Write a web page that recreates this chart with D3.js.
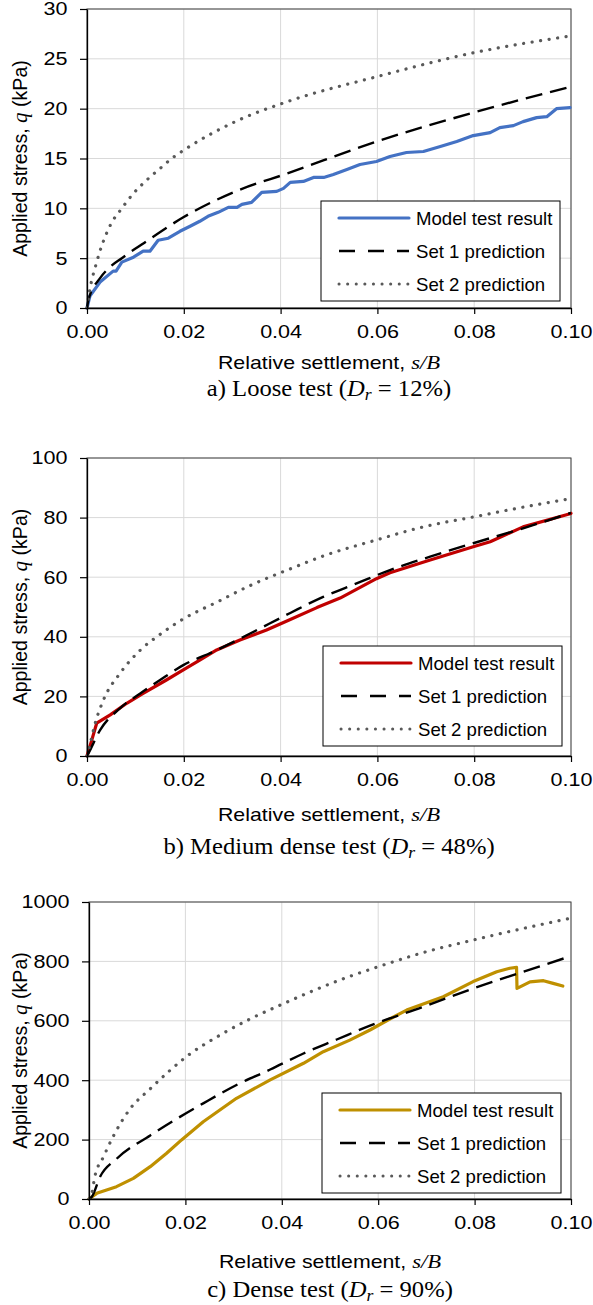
<!DOCTYPE html>
<html>
<head>
<meta charset="utf-8">
<script src="https://cdn.jsdelivr.net/npm/d3@7"></script>
<style>
  body { margin: 0; background: #fff; }
  text { fill: #000; }
</style>
</head>
<body>
<script>
// ---- data ----
const settleTicks = [0, 0.02, 0.04, 0.06, 0.08, 0.10];
const looseTicks = [0, 5, 10, 15, 20, 25, 30];
const mediumTicks = [0, 20, 40, 60, 80, 100];
const denseTicks = [0, 200, 400, 600, 800, 1000];
const legendNames = ["Model test result", "Set 1 prediction", "Set 2 prediction"];

// a) loose test, [s/B, q kPa]
const looseModel = [[0,0],[0.0006,1.2],[0.0027,2.6],[0.0054,3.7],[0.006,3.7],[0.0072,4.6],[0.0096,5.1],
  [0.0116,5.7],[0.013,5.7],[0.0147,6.8],[0.0168,7.0],[0.0192,7.7],[0.0213,8.2],[0.0233,8.7],[0.025,9.2],
  [0.0271,9.6],[0.0292,10.1],[0.031,10.1],[0.032,10.4],[0.034,10.6],[0.0361,11.6],[0.0392,11.7],[0.0406,12.0],
  [0.042,12.6],[0.0447,12.7],[0.0468,13.1],[0.0489,13.1],[0.0509,13.4],[0.0537,13.9],[0.0564,14.4],[0.0598,14.7],
  [0.0626,15.2],[0.066,15.6],[0.0695,15.7],[0.073,16.2],[0.0764,16.7],[0.0798,17.3],[0.0833,17.6],[0.0853,18.1],
  [0.0881,18.3],[0.0901,18.7],[0.0929,19.1],[0.095,19.2],[0.097,20.0],[0.0998,20.1]];
const looseSet1 = [[0,0],[0.0003,0.8],[0.0027,3.0],[0.0045,4.0],[0.0072,5.0],[0.0123,6.7],[0.0199,9.1],
  [0.0302,11.6],[0.042,13.6],[0.0598,16.7],[0.0798,19.6],[0.1,22.2]];
const looseSet2 = [[0,0],[0.0005,1.6],[0.002,4.6],[0.0047,8.2],[0.0072,10.0],[0.0096,11.5],[0.0116,12.5],
  [0.0151,14.0],[0.0175,15.0],[0.0202,15.9],[0.0302,18.6],[0.042,20.8],[0.0598,23.2],[0.0798,25.6],[0.1,27.3]];

// b) medium dense test
const mediumModel = [[0,0],[0.001,5.4],[0.002,11.0],[0.0048,13.8],[0.0082,17.7],[0.0116,21.0],[0.0164,25.5],
  [0.0199,28.9],[0.0233,32.2],[0.0268,35.6],[0.0316,38.9],[0.0371,42.3],[0.042,45.8],[0.0475,49.8],[0.0523,53.0],
  [0.0598,59.5],[0.0626,61.5],[0.0709,65.8],[0.0798,70.2],[0.0833,71.9],[0.0901,76.9],[0.1,81.4]];
const mediumSet1 = [[0,0],[0.0003,0.9],[0.0027,8.7],[0.0068,16.0],[0.011,21.0],[0.0151,25.5],[0.0199,30.5],
  [0.0261,35.0],[0.0337,41.1],[0.042,48.0],[0.0488,53.4],[0.0557,57.9],[0.0626,62.4],[0.0709,66.9],
  [0.0798,71.4],[0.0901,76.4],[0.1,81.6]];
const mediumSet2 = [[0,0],[0.0005,3.1],[0.0017,11.0],[0.0034,18.8],[0.0068,27.7],[0.011,35.5],[0.0151,40.8],
  [0.0199,46.0],[0.0268,51.6],[0.0337,57.2],[0.042,62.8],[0.0488,67.1],[0.0598,72.5],[0.0695,76.9],
  [0.0798,80.2],[0.0901,83.5],[0.1,86.4]];

// c) dense test
const denseModel = [[0,0],[0.0016,19],[0.0057,41.5],[0.0092,69.6],[0.0127,108.8],[0.0161,153.9],[0.0192,199],
  [0.0237,260],[0.0306,339],[0.0376,401],[0.0445,457],[0.0486,496],[0.0541,535],[0.0583,569],[0.0624,606],
  [0.0659,636],[0.0735,681],[0.0797,732],[0.0846,765],[0.0873,777],[0.0887,780],[0.0888,709],[0.0915,731],
  [0.0943,735],[0.0963,726],[0.0983,717]];
const denseSet1 = [[0,0],[0.0006,7.7],[0.0023,75],[0.0057,135],[0.0127,214],[0.0178,266],[0.0237,322],
  [0.0306,384],[0.0376,436],[0.0445,490],[0.0514,537],[0.0583,584],[0.0694,647],[0.0797,709],[0.0901,765],[0.1,818]];
const denseSet2 = [[0,0],[0.0006,19],[0.0012,75],[0.003,142],[0.005,210],[0.0085,303],[0.0127,371],
  [0.0168,433],[0.0201,478],[0.0272,552],[0.0334,606],[0.0401,656],[0.0472,706],[0.0535,746],[0.06,782],
  [0.0694,830],[0.0797,872],[0.0901,911],[0.0995,944]];

// ---- drawing ----
const svg = d3.select("body").append("svg")
    .attr("width", 593)
    .attr("height", 1305);

const sans = "'Liberation Sans', Arial, sans-serif";
const serif = "'Liberation Serif', 'Times New Roman', serif";
const stretch = 1.16;

function drawPanel(p) {
  let x = d3.scaleLinear().domain([0, 0.1]).range([p.left, p.right]);
  let y = d3.scaleLinear().domain([0, p.yTicks[p.yTicks.length - 1]]).range([p.bottom, p.top]);
  let g = svg.append("g");

  // gridlines
  g.selectAll(".hgrid").data(p.yTicks).enter().append("line")
    .attr("x1", p.left).attr("x2", p.right)
    .attr("y1", d => y(d)).attr("y2", d => y(d))
    .attr("stroke", "#d9d9d9").attr("stroke-width", 1);
  g.selectAll(".vgrid").data(settleTicks).enter().append("line")
    .attr("x1", d => x(d)).attr("x2", d => x(d))
    .attr("y1", p.top).attr("y2", p.bottom)
    .attr("stroke", "#d9d9d9").attr("stroke-width", 1);

  // plot frame
  g.append("rect")
    .attr("x", p.left).attr("y", p.top)
    .attr("width", p.right - p.left).attr("height", p.bottom - p.top)
    .attr("fill", "none").attr("stroke", "#404040").attr("stroke-width", 1);

  let line = d3.line().x(d => x(d[0])).y(d => y(d[1]));
  let smooth = d3.line().x(d => x(d[0])).y(d => y(d[1])).curve(d3.curveMonotoneX);

  g.append("path").datum(p.model).attr("d", line)
    .attr("fill", "none").attr("stroke", p.color).attr("stroke-width", 3.2)
    .attr("stroke-linejoin", "round").attr("stroke-linecap", "round");
  g.append("path").datum(p.set1).attr("d", smooth)
    .attr("fill", "none").attr("stroke", "#000").attr("stroke-width", 2.4)
    .attr("stroke-dasharray", "17,8");
  g.append("path").datum(p.set2).attr("d", smooth)
    .attr("fill", "none").attr("stroke", "#595959").attr("stroke-width", 3.2)
    .attr("stroke-dasharray", "0.1,8.5").attr("stroke-linecap", "round");

  // axes
  let xAxis = g.append("g")
    .attr("transform", `translate(0,${p.bottom})`)
    .call(d3.axisBottom(x).tickValues(settleTicks).tickFormat(d3.format(".2f")).tickSize(6).tickSizeOuter(0));
  let yAxis = g.append("g")
    .attr("transform", `translate(${p.left},0)`)
    .call(d3.axisLeft(y).tickValues(p.yTicks).tickFormat(d3.format("d")).tickSize(7).tickSizeOuter(0));
  [xAxis, yAxis].forEach(a => {
    a.select(".domain").attr("stroke", "#000").attr("stroke-width", 1.3);
    a.selectAll(".tick line").attr("stroke", "#000").attr("stroke-width", 1.2);
    a.selectAll("text").style("font-family", sans).style("font-size", "18.6px").attr("fill", "#000");
  });
  xAxis.selectAll("text").attr("y", 30).attr("dy", null).attr("transform", `scale(${stretch},1)`);
  yAxis.selectAll("text").attr("x", -19.5 / stretch).attr("transform", `scale(${stretch},1)`);

  // axis titles
  let xt = g.append("text")
    .attr("transform", `translate(${(p.left + p.right) / 2},${p.bottom + p.titleGap}) scale(${stretch},1)`)
    .attr("text-anchor", "middle")
    .style("font-family", sans).style("font-size", "18.4px");
  xt.append("tspan").text("Relative settlement, ");
  xt.append("tspan").text("s/B").style("font-family", serif).style("font-style", "italic").style("font-size", "19.5px");

  let yt = g.append("text")
    .attr("transform", `translate(27,${(p.top + p.bottom) / 2}) rotate(-90)`)
    .attr("text-anchor", "middle")
    .style("font-family", sans).style("font-size", "19.6px");
  yt.append("tspan").text("Applied stress, ");
  yt.append("tspan").text("q").style("font-family", serif).style("font-style", "italic").style("font-size", "21px");
  yt.append("tspan").text(" (kPa)");

  // caption
  let cap = g.append("text")
    .attr("transform", `translate(${(p.left + p.right) / 2},${p.bottom + p.captionGap}) scale(1.1,1)`)
    .attr("text-anchor", "middle")
    .style("font-family", serif).style("font-size", "22.4px");
  cap.append("tspan").text(p.caption + " (");
  cap.append("tspan").text("D").style("font-style", "italic");
  cap.append("tspan").text("r").style("font-style", "italic").style("font-size", "16px").attr("dy", 4);
  cap.append("tspan").text(" = " + p.dr + "%)").attr("dy", -4);

  // legend
  let lg = g.append("g").attr("transform", `translate(${p.legX},${p.legY})`);
  lg.append("rect").attr("width", 239).attr("height", 100)
    .attr("fill", "#fff").attr("stroke", "#000").attr("stroke-width", 1);
  let styles = [
    { stroke: p.color, width: 3.2, dash: null, cap: "round" },
    { stroke: "#000", width: 2.4, dash: "16,13", cap: "butt" },
    { stroke: "#595959", width: 3, dash: "0.1,8.5", cap: "round" }
  ];
  legendNames.forEach((name, i) => {
    let cy = 17 + i * 33;
    lg.append("line")
      .attr("x1", 18).attr("x2", 88)
      .attr("y1", cy).attr("y2", cy)
      .attr("stroke", styles[i].stroke).attr("stroke-width", styles[i].width)
      .attr("stroke-dasharray", styles[i].dash).attr("stroke-linecap", styles[i].cap);
    lg.append("text").attr("x", 95).attr("y", cy + 6.5)
      .style("font-family", sans).style("font-size", "18.6px")
      .text(name);
  });
}

drawPanel({ left: 87, right: 571, top: 9, bottom: 308, yTicks: looseTicks,
  model: looseModel, set1: looseSet1, set2: looseSet2, color: "#4472c4",
  caption: "a) Loose test", dr: 12, titleGap: 61, captionGap: 88, legX: 321, legY: 201 });
drawPanel({ left: 87, right: 571, top: 458, bottom: 756, yTicks: mediumTicks,
  model: mediumModel, set1: mediumSet1, set2: mediumSet2, color: "#c00000",
  caption: "b) Medium dense test", dr: 48, titleGap: 65, captionGap: 98, legX: 323, legY: 646 });
drawPanel({ left: 89, right: 571, top: 902, bottom: 1199, yTicks: denseTicks,
  model: denseModel, set1: denseSet1, set2: denseSet2, color: "#bf9000",
  caption: "c) Dense test", dr: 90, titleGap: 69, captionGap: 98, legX: 322, legY: 1093 });
</script>
</body>
</html>
